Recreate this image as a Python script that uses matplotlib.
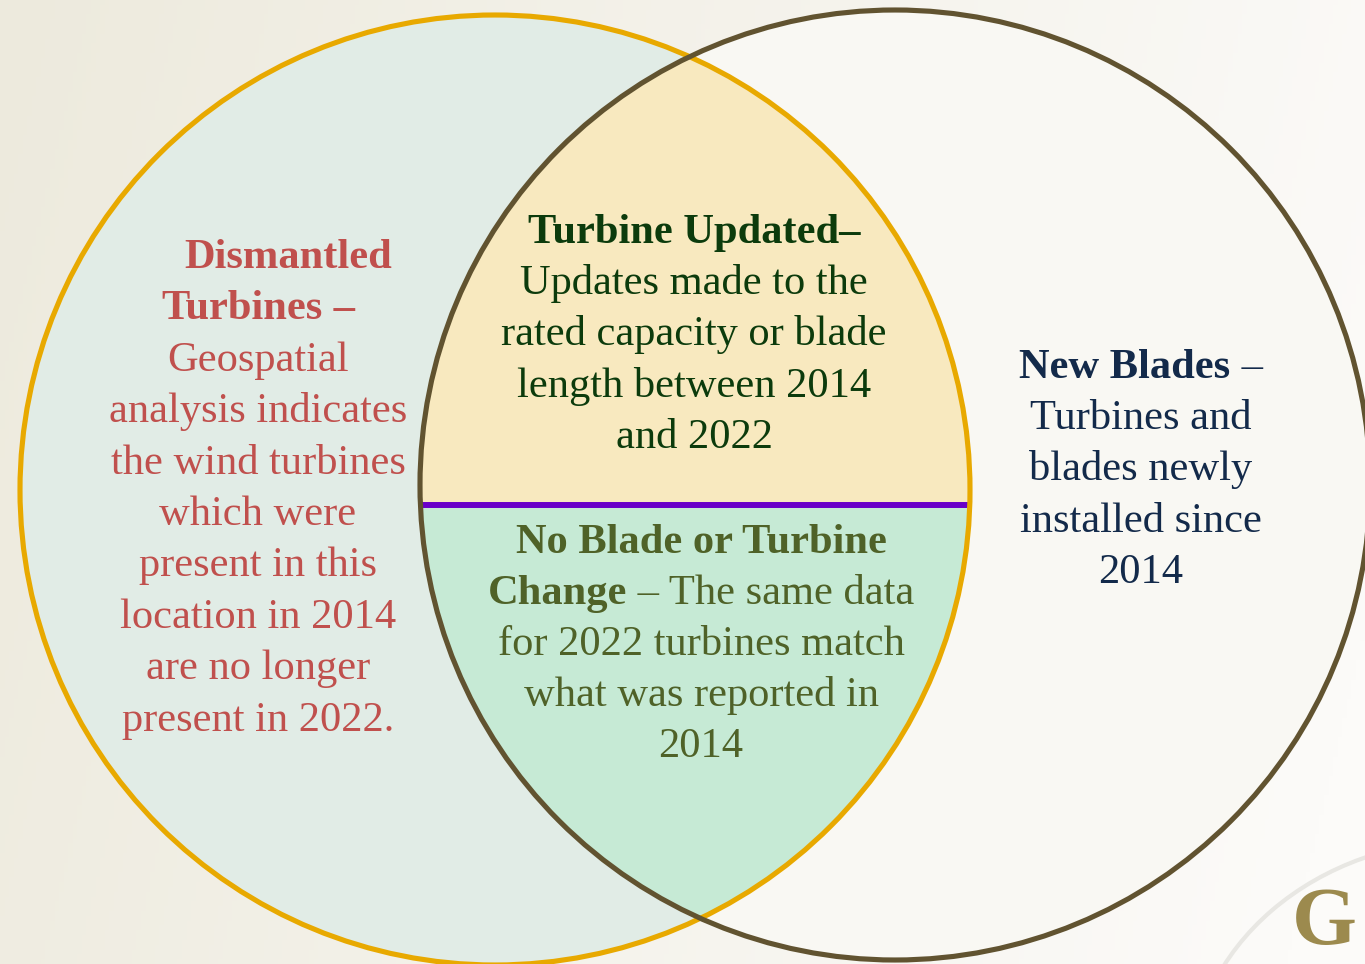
import numpy as np
import matplotlib
matplotlib.use("Agg")
import matplotlib.pyplot as plt
from matplotlib.patches import Circle, Polygon, Rectangle, Arc

# Venn diagram content
left_lines = [
    [("Dismantled", True)],
    [("Turbines", True), (" \u2013", True)],
    [("Geospatial", False)],
    [("analysis indicates", False)],
    [("the wind turbines", False)],
    [("which were", False)],
    [("present in this", False)],
    [("location in 2014", False)],
    [("are no longer", False)],
    [("present in 2022.", False)],
]
top_lines = [
    [("Turbine Updated\u2013", True)],
    [("Updates made to the", False)],
    [("rated capacity or blade", False)],
    [("length between 2014", False)],
    [("and 2022", False)],
]
bottom_lines = [
    [("No Blade or Turbine", True)],
    [("Change", True), (" \u2013 The same data", False)],
    [("for 2022 turbines match", False)],
    [("what was reported in", False)],
    [("2014", False)],
]
right_lines = [
    [("New Blades", True), (" \u2013", False)],
    [("Turbines and", False)],
    [("blades newly", False)],
    [("installed since", False)],
    [("2014", False)],
]

W, H = 1365, 964
FONT = "Liberation Serif"
FS = 30.6

fig = plt.figure(figsize=(W / 100, H / 100), dpi=100)
ax = fig.add_axes([0, 0, 1, 1])
ax.set_xlim(0, W)
ax.set_ylim(H, 0)
ax.axis("off")

# background gradient (beige on the left, near white on the right)
gx = np.linspace(0, 1, 300)
gy = np.linspace(0, 1, 200)
GX, GY = np.meshgrid(gx, gy)
c_left = np.array([0xED, 0xEA, 0xDD]) / 255
c_right = np.array([0xFC, 0xFB, 0xF9]) / 255
t = np.clip(GX * 0.9 + GY * 0.15, 0, 1)[..., None]
bg = c_left * (1 - t) + c_right * t
ax.imshow(bg, extent=[0, W, H, 0], aspect="auto", zorder=0)

# faint arc behind the logo
ax.add_patch(Arc((1470, 1080), 560, 480, theta1=180, theta2=270,
                 color="#e8e7e3", lw=3, zorder=1))
ax.text(1292, 944, "G", fontfamily=FONT, fontweight="bold", fontsize=60,
        color="#9c8a4e", ha="left", va="baseline", zorder=1)

c1, c2, r = (495, 490), (895, 485), 475
ax.add_patch(Circle(c1, r, facecolor="#e1ece6", edgecolor="none", zorder=2))
ax.add_patch(Circle(c2, r, facecolor="#f9f8f3", edgecolor="none", zorder=2))

# lens: intersection of the two circles
d = np.hypot(c2[0] - c1[0], c2[1] - c1[1])
a = d / 2
ang_c1 = np.arctan2(c2[1] - c1[1], c2[0] - c1[0])
half = np.arccos(a / r)
th1 = np.linspace(ang_c1 - half, ang_c1 + half, 200)
arc1 = np.c_[c1[0] + r * np.cos(th1), c1[1] + r * np.sin(th1)]
th2 = np.linspace(ang_c1 + np.pi - half, ang_c1 + np.pi + half, 200)
arc2 = np.c_[c2[0] + r * np.cos(th2), c2[1] + r * np.sin(th2)]
lens = Polygon(np.vstack([arc1, arc2]), closed=True, facecolor="#f8e9bf",
               edgecolor="none", zorder=3)
ax.add_patch(lens)
split_y = 505
low = Rectangle((0, split_y), W, H - split_y, facecolor="#c6ead5",
                edgecolor="none", zorder=3)
ax.add_patch(low)
low.set_clip_path(lens)
ax.plot([421, 970], [split_y, split_y], color="#6a00c8", lw=4.3,
        solid_capstyle="butt", zorder=4)

ax.add_patch(Circle(c1, r, facecolor="none", edgecolor="#e8a900", lw=3.7, zorder=5))
ax.add_patch(Circle(c2, r, facecolor="none", edgecolor="#615330", lw=3.7, zorder=6))

renderer = fig.canvas.get_renderer()


def draw_line(segments, xc, y, color):
    items = []
    for s, bold in segments:
        txt = ax.text(0, y, s, fontfamily=FONT, fontsize=FS, color=color,
                      fontweight="bold" if bold else "normal",
                      ha="left", va="baseline", zorder=7)
        w = txt.get_window_extent(renderer).width
        items.append((txt, w))
    total = sum(w for _, w in items)
    x = xc - total / 2
    for txt, w in items:
        txt.set_x(x)
        x += w


def draw_block(lines, xcs, y0, step, color):
    for i, segs in enumerate(lines):
        draw_line(segs, xcs[i] if isinstance(xcs, list) else xcs, y0 + i * step, color)


draw_block(left_lines, [288] + [258] * 9, 268, 51.4, "#c0504d")
draw_block(top_lines, 694, 243, 51.2, "#0c3b0c")
draw_block(bottom_lines, 701, 553, 51.0, "#4f6228")
draw_block(right_lines, 1141, 378, 51.2, "#132a4a")

fig.savefig("out.png", dpi=100)
